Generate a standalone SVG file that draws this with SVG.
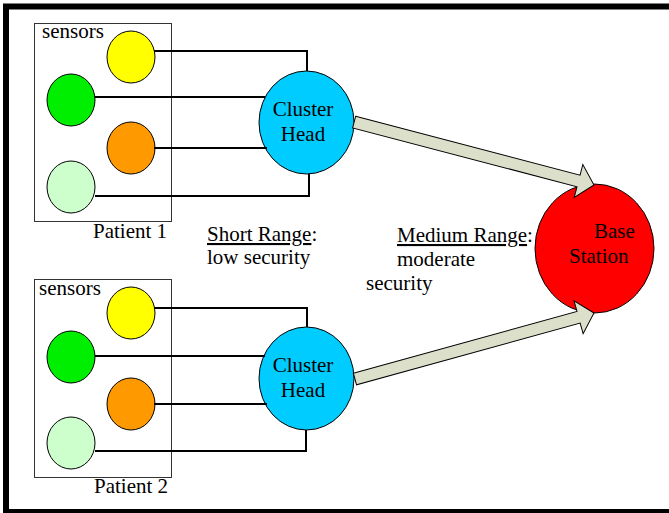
<svg xmlns="http://www.w3.org/2000/svg" width="669" height="513" viewBox="0 0 669 513">
<style>
text{font-family:"Liberation Serif","Times New Roman",serif;font-size:21px;fill:#000}
.box{fill:none;stroke:#333;stroke-width:1}
.c{stroke:#000;stroke-width:1}
.wire{fill:none;stroke:#000;stroke-width:2}
.arrow{fill:#dcdfca;stroke:#000;stroke-width:1;stroke-linejoin:miter}
.yel{fill:#ffff00}.grn{fill:#00ee00}.org{fill:#ff9900}.lgr{fill:#ccffcc}.ch{fill:#00ccff}.bs{fill:#ff0000}
</style>
<rect width="669" height="513" fill="#fff"/>
<rect x="6" y="6.5" width="720" height="505.5" fill="none" stroke="#000" stroke-width="6"/>

<g id="patient1">
<rect class="box" x="34.5" y="23.5" width="137" height="198"/>
<text x="42" y="38">sensors</text>
<text x="93" y="238">Patient 1</text>
</g>
<g id="p1-yellow"><ellipse class="c yel" cx="131" cy="57" rx="24" ry="26"/></g>
<g id="p1-green"><ellipse class="c grn" cx="71" cy="100" rx="24" ry="26"/></g>
<g id="p1-orange"><ellipse class="c org" cx="131" cy="148" rx="24" ry="26"/></g>
<g id="p1-lightgreen"><ellipse class="c lgr" cx="71" cy="187" rx="24" ry="26"/></g>

<g id="patient2">
<rect class="box" x="34.5" y="279.5" width="137" height="198"/>
<text x="39" y="295">sensors</text>
<text x="94" y="493">Patient 2</text>
</g>
<g id="p2-yellow"><ellipse class="c yel" cx="131" cy="313" rx="24" ry="26"/></g>
<g id="p2-green"><ellipse class="c grn" cx="71" cy="357" rx="24" ry="26"/></g>
<g id="p2-orange"><ellipse class="c org" cx="131" cy="404" rx="24" ry="26"/></g>
<g id="p2-lightgreen"><ellipse class="c lgr" cx="71" cy="443" rx="24" ry="26"/></g>

<g id="cluster-head-1">
<ellipse class="c ch" cx="306.5" cy="122.5" rx="47.5" ry="51.5"/>
<text x="303" y="116" text-anchor="middle">Cluster</text>
<text x="303" y="141" text-anchor="middle">Head</text>
</g>
<g id="cluster-head-2">
<ellipse class="c ch" cx="306.5" cy="378.5" rx="47.5" ry="51.5"/>
<text x="303" y="372" text-anchor="middle">Cluster</text>
<text x="303" y="397" text-anchor="middle">Head</text>
</g>
<g id="base-station">
<ellipse class="c bs" cx="594.5" cy="248.5" rx="59.5" ry="64.5"/>
<text x="594" y="238">Base</text>
<text x="569" y="263">Station</text>
</g>

<g id="connectors">
<path class="wire" d="M154,51 H307 V71"/>
<path class="wire" d="M95,97 H265"/>
<path class="wire" d="M154,148 H267"/>
<path class="wire" d="M95,196 H309 V174"/>
<path class="wire" d="M154,308 H307 V327"/>
<path class="wire" d="M95,356 H265"/>
<path class="wire" d="M154,404 H267"/>
<path class="wire" d="M95,451 H306 V430"/>
<polygon class="arrow" transform="translate(594,185) rotate(14.7)" points="-248,-6 -16,-6 -16,-17 0,0 -16,17 -16,6 -248,6"/>
<polygon class="arrow" transform="translate(594,313) rotate(-15.44)" points="-248,-6 -16,-6 -16,-17 0,0 -16,17 -16,6 -248,6"/>
</g>

<g id="labels">
<text x="207" y="241"><tspan text-decoration="underline">Short Range</tspan>:</text>
<text x="207" y="264">low security</text>
<text x="397" y="242"><tspan text-decoration="underline">Medium Range</tspan>:</text>
<text x="397" y="266">moderate</text>
<text x="366" y="290">security</text>
</g>
</svg>
